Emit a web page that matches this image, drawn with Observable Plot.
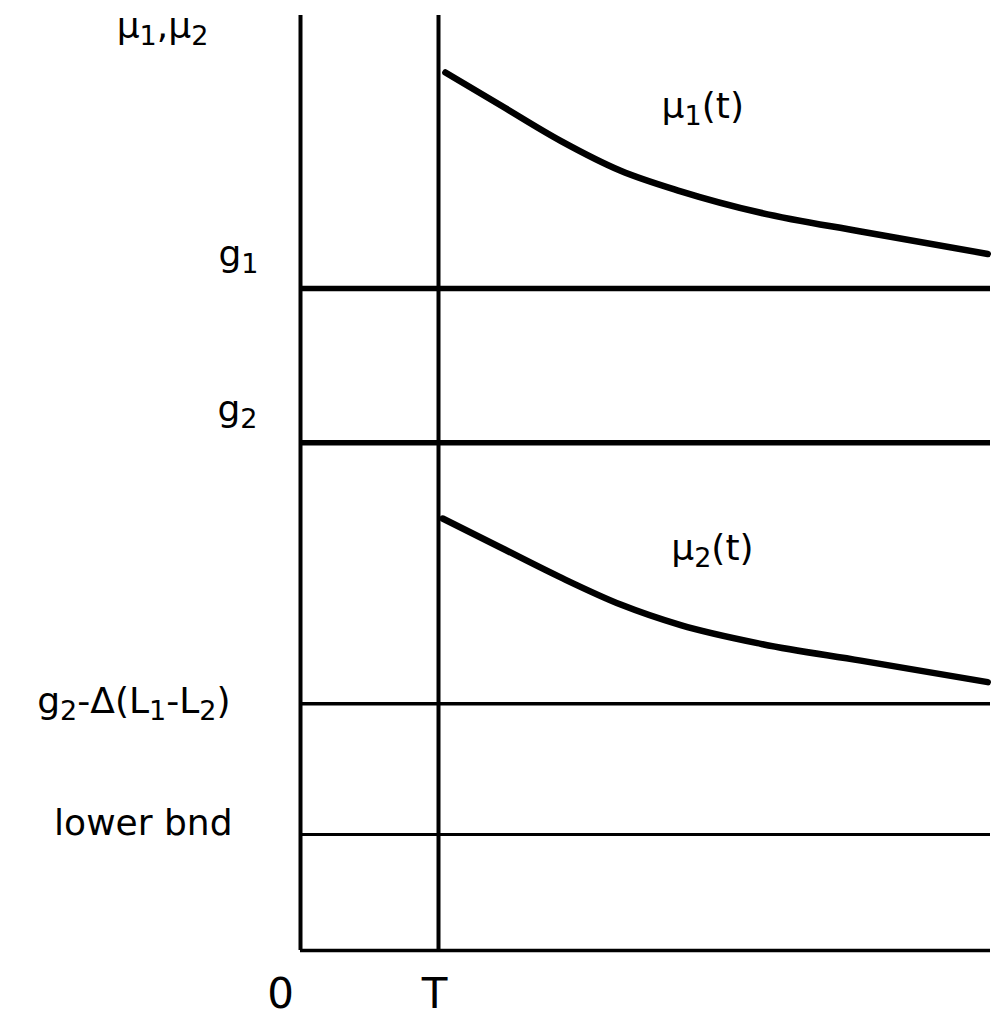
<!DOCTYPE html>
<html>
<head>
<meta charset="utf-8">
<script src="https://cdn.jsdelivr.net/npm/d3@7"></script>
<script src="https://cdn.jsdelivr.net/npm/@observablehq/plot@0.6"></script>
<style>
  html, body { margin: 0; padding: 0; background: #fff; }
  #chart svg { display: block; }
</style>
</head>
<body>
<div id="chart"></div>
<script>
// ---- data (abstract units) ----
const tMu1 = [2.10, 2.90, 3.77, 4.64, 5.51, 6.67, 8.12, 9.96];
const mu1  = [9.39, 9.04, 8.66, 8.34, 8.12, 7.89, 7.69, 7.45];
const tMu2 = [2.06, 2.90, 3.77, 4.64, 5.51, 6.67, 8.12, 9.96];
const mu2  = [4.62, 4.31, 3.99, 3.70, 3.48, 3.28, 3.10, 2.87];

const levelNames  = ["g₁", "g₂", "g₂-Δ(L₁-L₂)", "lower bnd"];
const levelValues = [7.08, 5.43, 2.64, 1.24];

const xTickLabels = ["0", "T"];
const xTickValues = [0, 2];

const curveNames = ["μ₁(t)", "μ₂(t)"];
const axisTitle = "μ₁,μ₂";

// ---- styles ----
const levelWidths = [5.5, 5.5, 3.5, 3];
const levelLabelDx = [-42, -43, -70, -68];
const levelLabelDy = [-34, -33, -2, -11];
const levelLetterSpacing = [0, 0, 2, 1];
const tickDx = [-20, -4];
const font = "DejaVu Sans";

const curve1 = tMu1.map((t, i) => ({t, v: mu1[i]}));
const curve2 = tMu2.map((t, i) => ({t, v: mu2[i]}));

const marks = [
  // vertical lines at 0 and T
  Plot.ruleX(xTickValues, {y1: 0, y2: 10, stroke: "#000", strokeWidth: 4}),
  // bottom axis
  Plot.ruleY([0], {x1: 0, x2: 10, stroke: "#000", strokeWidth: 3.5}),
  // curves
  Plot.line(curve1, {x: "t", y: "v", curve: "monotone-x", stroke: "#000", strokeWidth: 6.5, strokeLinecap: "round"}),
  Plot.line(curve2, {x: "t", y: "v", curve: "monotone-x", stroke: "#000", strokeWidth: 6.5, strokeLinecap: "round"}),
  // curve labels
  Plot.text([curveNames[0]], {x: 5.83, y: 9.03, text: d => d, fontSize: 36, fontFamily: font, fill: "#000", letterSpacing: 1}),
  Plot.text([curveNames[1]], {x: 5.97, y: 4.30, text: d => d, fontSize: 36, fontFamily: font, fill: "#000", letterSpacing: 1}),
  // axis title
  Plot.text([axisTitle], {x: 0, y: 10, dx: -138, dy: 11, text: d => d, fontSize: 36, fontFamily: font, fill: "#000"})
];

levelValues.forEach((v, i) => {
  marks.push(Plot.ruleY([v], {x1: 0, x2: 10, stroke: "#000", strokeWidth: levelWidths[i]}));
  marks.push(Plot.text([levelNames[i]], {x: 0, y: v, dx: levelLabelDx[i], dy: levelLabelDy[i], text: d => d, textAnchor: "end", fontSize: 36, fontFamily: font, fill: "#000", letterSpacing: levelLetterSpacing[i]}));
});

xTickValues.forEach((v, i) => {
  marks.push(Plot.text([xTickLabels[i]], {x: v, y: 0, dx: tickDx[i], dy: 44, text: d => d, fontSize: 42, fontFamily: font, fill: "#000"}));
});

const chart = Plot.plot({
  width: 994,
  height: 1021,
  marginLeft: 300,
  marginRight: 4,
  marginTop: 15,
  marginBottom: 71,
  x: {domain: [0, 10], axis: null},
  y: {domain: [0, 10], axis: null},
  style: {background: "#fff", color: "#000", overflow: "visible"},
  marks
});

// render unicode subscripts as real smaller, lowered digits
const subMap = {"₁": "1", "₂": "2"};
d3.select(chart).selectAll("text").each(function() {
  const el = this;
  const s = el.textContent;
  if (!/[₁₂]/.test(s)) return;
  while (el.firstChild) el.removeChild(el.firstChild);
  let lowered = false;
  for (const ch of s) {
    const isSub = ch in subMap;
    const ts = document.createElementNS("http://www.w3.org/2000/svg", "tspan");
    ts.textContent = isSub ? subMap[ch] : ch;
    if (isSub) {
      ts.setAttribute("font-size", "0.75em");
      if (!lowered) { ts.setAttribute("dy", "7"); lowered = true; }
    } else if (lowered) {
      ts.setAttribute("dy", "-7");
      lowered = false;
    }
    el.appendChild(ts);
  }
});

document.getElementById("chart").appendChild(chart);
</script>
</body>
</html>
